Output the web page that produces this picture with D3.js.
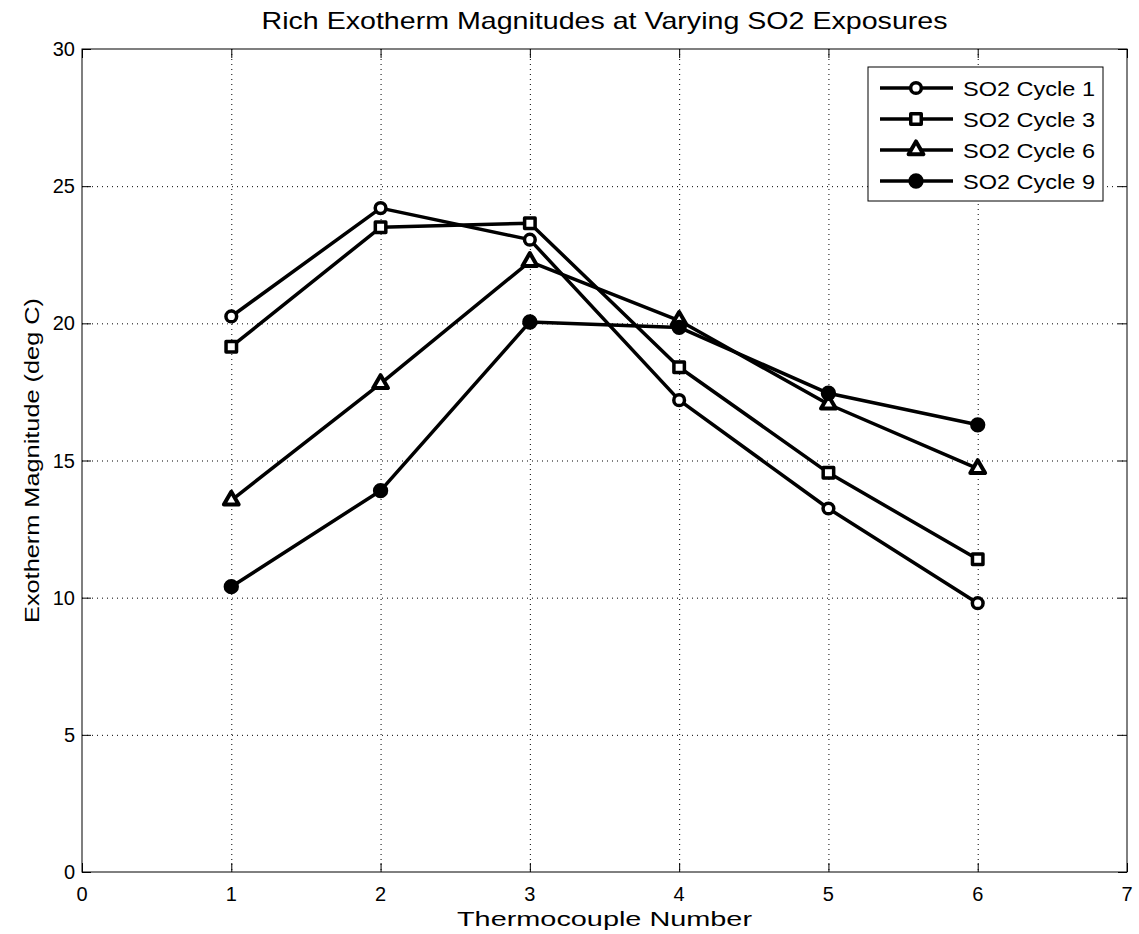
<!DOCTYPE html>
<html>
<head>
<meta charset="utf-8">
<script src="https://cdn.jsdelivr.net/npm/d3@7"></script>
<style>
  body { margin: 0; background: #fff; }
  text { font-family: "Liberation Sans", Arial, sans-serif; fill: #000; }
</style>
</head>
<body>
<div id="chart"></div>
<script>
// thermocouple positions
const thermocouples = [1, 2, 3, 4, 5, 6];

// exotherm magnitudes (deg C) per SO2 cycle
const cycle1 = [20.25, 24.2, 23.05, 17.2, 13.25, 9.8];
const cycle3 = [19.15, 23.5, 23.65, 18.4, 14.55, 11.4];
const cycle6 = [13.55, 17.8, 22.25, 20.1, 17.05, 14.7];
const cycle9 = [10.4, 13.9, 20.05, 19.85, 17.45, 16.3];

const seriesNames = ['SO2 Cycle 1', 'SO2 Cycle 3', 'SO2 Cycle 6', 'SO2 Cycle 9'];
const markers = ['circle', 'square', 'triangle', 'dot'];

const xTicks = [0, 1, 2, 3, 4, 5, 6, 7];
const yTicks = [0, 5, 10, 15, 20, 25, 30];

const series = [cycle1, cycle3, cycle6, cycle9].map((vals, i) => ({
  name: seriesNames[i],
  marker: markers[i],
  values: vals.map((v, j) => ({ x: thermocouples[j], y: v }))
}));

const width = 1139;
const height = 934;
const margin = { top: 49, right: 12, bottom: 62, left: 82 };

const svg = d3.select('#chart')
  .append('svg')
  .attr('width', width)
  .attr('height', height);

svg.append('rect').attr('width', width).attr('height', height).attr('fill', '#fff');

const x = d3.scaleLinear()
  .domain([0, 7])
  .range([margin.left, width - margin.right]);

const y = d3.scaleLinear()
  .domain([0, 30])
  .range([height - margin.bottom, margin.top]);

// dotted grid
const grid = svg.append('g').attr('stroke', '#000').attr('stroke-width', 1)
  .attr('stroke-dasharray', '1,4');
grid.selectAll('.gx')
  .data(xTicks.slice(1, -1))
  .join('line')
    .attr('x1', d => x(d) + 0.5).attr('x2', d => x(d) + 0.5)
    .attr('y1', y(30)).attr('y2', y(0));
grid.selectAll('.gy')
  .data(yTicks.slice(1, -1))
  .join('line')
    .attr('y1', d => y(d) + 0.5).attr('y2', d => y(d) + 0.5)
    .attr('x1', x(0)).attr('x2', x(7));

// axes (ticks pointing inward, like matlab)
const tickLen = 9;
function xAxis(g) {
  g.attr('transform', `translate(0,${y(0)})`)
    .call(d3.axisTop(x).tickValues(xTicks).tickSize(tickLen).tickFormat(''))
    .call(g => g.select('.domain').remove());
}
function xAxisTop(g) {
  g.attr('transform', `translate(0,${y(30)})`)
    .call(d3.axisBottom(x).tickValues(xTicks).tickSize(tickLen).tickFormat(''))
    .call(g => g.select('.domain').remove());
}
function yAxis(g) {
  g.attr('transform', `translate(${x(0)},0)`)
    .call(d3.axisRight(y).tickValues(yTicks).tickSize(tickLen).tickFormat(''))
    .call(g => g.select('.domain').remove());
}
function yAxisRight(g) {
  g.attr('transform', `translate(${x(7)},0)`)
    .call(d3.axisLeft(y).tickValues(yTicks).tickSize(tickLen).tickFormat(''))
    .call(g => g.select('.domain').remove());
}
svg.append('g').call(xAxis);
svg.append('g').call(xAxisTop);
svg.append('g').call(yAxis);
svg.append('g').call(yAxisRight);

svg.append('rect')
  .attr('x', x(0)).attr('y', y(30))
  .attr('width', x(7) - x(0)).attr('height', y(0) - y(30))
  .attr('fill', 'none').attr('stroke', '#000').attr('stroke-width', 1);

// tick labels
svg.append('g').selectAll('text')
  .data(xTicks)
  .join('text')
    .attr('x', d => x(d))
    .attr('y', y(0) + 29)
    .attr('text-anchor', 'middle')
    .attr('font-size', 20)
    .text(d => d);
svg.append('g').selectAll('text')
  .data(yTicks)
  .join('text')
    .attr('x', x(0) - 7)
    .attr('y', d => y(d) + 7)
    .attr('text-anchor', 'end')
    .attr('font-size', 20)
    .text(d => d);

// titles
svg.append('text')
  .attr('x', (x(0) + x(7)) / 2)
  .attr('y', 29)
  .attr('text-anchor', 'middle')
  .attr('font-size', 24)
  .attr('textLength', 686)
  .attr('lengthAdjust', 'spacingAndGlyphs')
  .text('Rich Exotherm Magnitudes at Varying SO2 Exposures');
svg.append('text')
  .attr('x', (x(0) + x(7)) / 2)
  .attr('y', y(0) + 54)
  .attr('text-anchor', 'middle')
  .attr('font-size', 21)
  .attr('textLength', 295)
  .attr('lengthAdjust', 'spacingAndGlyphs')
  .text('Thermocouple Number');
svg.append('text')
  .attr('transform', `translate(39,${(y(0) + y(30)) / 2}) rotate(-90)`)
  .attr('text-anchor', 'middle')
  .attr('font-size', 21)
  .attr('textLength', 325)
  .attr('lengthAdjust', 'spacingAndGlyphs')
  .text('Exotherm Magnitude (deg C)');

// markers
const symbolFor = {
  circle: d3.symbol(d3.symbolCircle, 90),
  square: d3.symbol(d3.symbolSquare, 110),
  triangle: d3.symbol(d3.symbolTriangle, 95),
  dot: d3.symbol(d3.symbolCircle, 110)
};
function drawMarker(sel, m) {
  sel.attr('d', symbolFor[m]())
    .attr('fill', m === 'dot' ? '#000' : '#fff')
    .attr('stroke', '#000')
    .attr('stroke-width', m === 'triangle' ? 4 : 3.5)
    .attr('stroke-linejoin', 'round');
}

const line = d3.line().x(d => x(d.x)).y(d => y(d.y));

const sg = svg.append('g').selectAll('g')
  .data(series)
  .join('g');
sg.append('path')
  .attr('d', d => line(d.values))
  .attr('fill', 'none')
  .attr('stroke', '#000')
  .attr('stroke-width', 3.5)
  .attr('stroke-linejoin', 'round');
sg.each(function (s) {
  d3.select(this).selectAll('path.m')
    .data(s.values)
    .join('path')
      .attr('class', 'm')
      .attr('transform', d => `translate(${x(d.x)},${y(d.y)})`)
      .call(drawMarker, s.marker);
});

// legend
const lg = svg.append('g').attr('transform', 'translate(868,67)');
lg.append('rect')
  .attr('width', 235).attr('height', 134)
  .attr('fill', '#fff').attr('stroke', '#000').attr('stroke-width', 1);
const items = lg.selectAll('g')
  .data(series)
  .join('g')
    .attr('transform', (d, i) => `translate(0,${21 + i * 31})`);
items.append('line')
  .attr('x1', 12).attr('x2', 85)
  .attr('stroke', '#000').attr('stroke-width', 3.5);
items.append('path')
  .attr('transform', 'translate(48,0)')
  .each(function (d) { d3.select(this).call(drawMarker, d.marker); });
items.append('text')
  .attr('x', 95).attr('y', 8)
  .attr('font-size', 21)
  .attr('textLength', 132)
  .attr('lengthAdjust', 'spacingAndGlyphs')
  .text(d => d.name);
</script>
</body>
</html>
